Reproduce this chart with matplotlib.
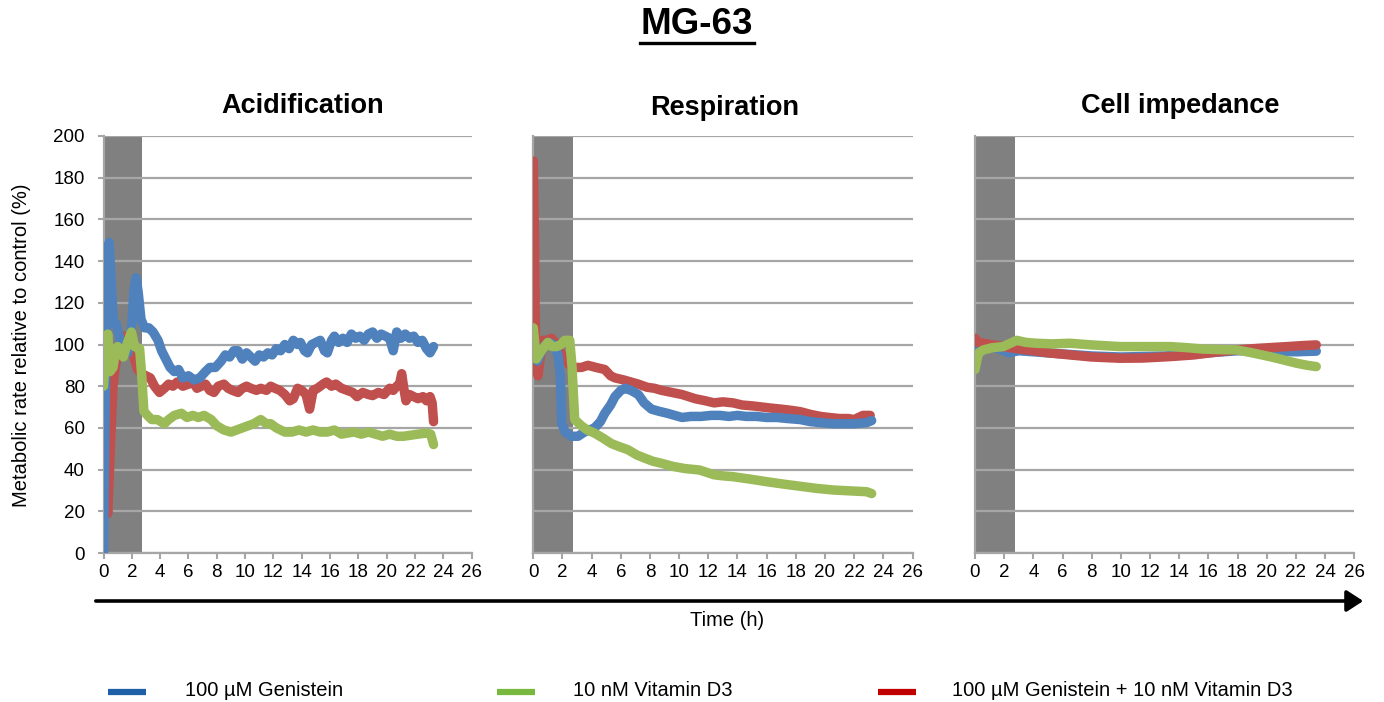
import matplotlib
matplotlib.use("Agg")
import matplotlib.pyplot as plt
from matplotlib.lines import Line2D
from matplotlib.patches import FancyArrowPatch

plt.rcParams['font.family'] = ['Liberation Sans', 'DejaVu Sans']

# ---------------- data ----------------
# Acidification
acid_blue_t = [0.0, 0.1, 0.25, 0.4, 0.55, 0.7, 0.9, 1.1, 1.4, 1.7, 1.95, 2.15, 2.3, 2.45, 2.65, 2.9, 3.2, 3.5, 3.85,
               4.1, 4.4, 4.7, 5.0, 5.3, 5.6, 6.0, 6.4, 6.8, 7.2, 7.5, 7.9, 8.3, 8.6, 8.9, 9.2, 9.5, 9.8, 10.1, 10.4,
               10.7, 11.0, 11.3, 11.6, 11.9, 12.2, 12.5, 12.8, 13.1, 13.4, 13.7, 13.9, 14.2, 14.4, 14.7, 15.0, 15.3,
               15.6, 15.8, 16.1, 16.3, 16.6, 16.9, 17.2, 17.5, 17.8, 18.1, 18.4, 18.7, 19.0, 19.3, 19.6, 19.9, 20.2,
               20.45, 20.7, 21.0, 21.3, 21.6, 21.9, 22.2, 22.5, 22.8, 23.05, 23.3]
acid_blue_v = [0, 60, 130, 149, 130, 110, 110, 104, 97, 96, 105, 126, 132, 125, 112, 108, 108, 106, 102,
               97, 93, 89, 87, 88, 84, 85, 83, 84, 87, 89, 89, 92, 95, 94, 97, 97, 93, 96, 94,
               92, 95, 94, 96, 95, 98, 97, 100, 98, 102, 100, 101, 97, 96, 100, 101, 102,
               97, 96, 102, 104, 101, 103, 101, 105, 103, 104, 102, 105, 106, 103, 105, 104, 103,
               97, 106, 103, 105, 103, 104, 101, 102, 98, 96, 99]

acid_red_t = [0.0, 0.15, 0.3, 0.45, 0.67, 0.85, 1.0, 1.25, 1.5, 1.75, 1.95, 2.2, 2.4, 2.7, 3.0, 3.3, 3.6, 3.95, 4.3,
              4.6, 4.9, 5.2, 5.6, 6.0, 6.3, 6.6, 6.9, 7.2, 7.5, 7.8, 8.1, 8.5, 8.8, 9.1, 9.5, 9.8, 10.1, 10.4,
              10.8, 11.1, 11.5, 11.8, 12.1, 12.45, 12.8, 13.15, 13.4, 13.7, 14.0, 14.3, 14.55, 14.8, 15.1, 15.5,
              15.75, 16.1, 16.4, 16.8, 17.2, 17.6, 17.9, 18.3, 18.7, 19.0, 19.4, 19.8, 20.2, 20.45, 20.7, 20.9,
              21.05, 21.2, 21.35, 21.6, 21.9, 22.2, 22.55, 22.8, 23.05, 23.2, 23.3]
acid_red_v = [60, 30, 19, 45, 80, 90, 96, 101, 104, 102, 99, 93, 88, 86, 85, 84, 80, 77, 79,
              81, 80, 82, 80, 81, 82, 79, 80, 81, 78, 77, 80, 81, 79, 78, 77, 79, 80, 79,
              78, 79, 78, 80, 79, 78, 76, 73, 74, 79, 78, 76, 69, 78, 79, 81,
              82, 80, 81, 79, 78, 77, 75, 77, 76, 75.5, 77, 76, 79, 78, 80, 81,
              86, 79, 73, 76, 75, 74, 75, 73, 75, 72, 63]

acid_green_t = [0.0, 0.15, 0.3, 0.45, 0.67, 0.85, 1.0, 1.2, 1.4, 1.65, 1.97, 2.2, 2.55, 2.7, 2.85, 3.1, 3.4, 3.8,
                4.3, 4.6, 5.0, 5.5, 5.9, 6.3, 6.7, 7.1, 7.6, 8.0, 8.5, 9.0, 9.4, 9.8, 10.2, 10.6, 11.1, 11.5,
                11.8, 12.2, 12.8, 13.3, 13.8, 14.3, 14.8, 15.3, 15.8, 16.3, 16.8, 17.2, 17.7, 18.2, 18.7, 19.2,
                19.7, 20.2, 20.7, 21.2, 21.7, 22.2, 22.8, 23.1, 23.3]
acid_green_v = [80, 97, 105, 87, 89, 97, 99, 96, 94, 100, 106, 99, 98, 85, 68, 66, 64, 64,
                62, 64, 66, 67, 65, 66, 65, 66, 64, 61, 59, 58, 59, 60, 61, 62, 64, 62,
                62, 60, 58, 58, 59, 58, 59, 58, 58, 59, 57, 57.5, 58, 57, 58, 57,
                56, 57, 56, 56, 56.5, 57, 57.5, 57, 52]

# Respiration
resp_red_t = [0.0, 0.08, 0.15, 0.32, 0.5, 0.66, 1.0, 1.24, 1.5, 1.8, 2.15, 2.5, 2.84, 3.3, 3.75, 4.3, 4.9, 5.3,
              5.6, 6.2, 6.7, 7.2, 7.8, 8.3, 8.8, 9.5, 10.2, 11.1, 11.8, 12.4, 13.0, 13.7, 14.3, 15.1, 15.7,
              16.3, 17.0, 17.6, 18.3, 19.0, 19.7, 20.3, 21.0, 21.6, 22.0, 22.6, 23.1]
resp_red_v = [188, 150, 100, 85, 95, 102, 102, 103, 101, 97, 93, 90, 89, 89, 90, 89, 88, 85,
              84, 83, 82, 81, 79.5, 79, 78, 77, 76, 74, 73, 72, 72.5, 72, 71, 70.5, 70,
              69.5, 69, 68.5, 67.8, 66.5, 65.5, 65, 64.5, 64.5, 64, 66, 66]

resp_blue_t = [0.0, 0.3, 0.6, 1.0, 1.4, 1.7, 1.85, 1.95, 2.2, 2.6, 3.07, 3.5, 4.2, 4.6, 4.9, 5.3, 5.6, 6.0, 6.3,
               6.7, 7.2, 7.6, 8.1, 8.6, 9.2, 9.7, 10.2, 10.8, 11.5, 12.2, 12.8, 13.4, 14.0, 14.6, 15.3, 16.0,
               16.7, 17.4, 18.3, 19.0, 19.7, 20.6, 21.3, 22.0, 22.85, 23.2]
resp_blue_v = [95, 92, 98, 101, 100, 95, 85, 62, 58, 56, 56, 58, 60, 63, 67, 71, 75, 78, 79,
               78, 76, 72, 69, 68, 67, 66, 65, 65.5, 65.5, 66, 66, 65.5, 66, 65.5, 65.5, 65,
               65, 64.5, 64, 63, 62.5, 62, 62, 62, 62.5, 63.5]

resp_green_t = [0.0, 0.2, 0.55, 1.0, 1.3, 1.6, 1.9, 2.15, 2.5, 2.65, 2.84, 3.3, 3.7, 4.2, 4.8, 5.35, 5.9, 6.5,
                7.1, 7.64, 8.2, 8.8, 9.6, 10.4, 11.4, 12.4, 13.0, 13.7, 14.8, 16.0, 17.2, 18.3, 19.4, 20.6,
                21.7, 22.85, 23.2]
resp_green_v = [108, 93, 97, 101, 99, 99, 100, 102, 102, 90, 64, 61, 59, 57.5, 55, 52.5, 51, 49.5,
                47, 45.5, 44, 43, 41.5, 40.5, 39.8, 37.5, 37, 36.6, 35.5, 34.2, 33, 32, 31, 30.2,
                29.8, 29.4, 28.5]

# Cell impedance
imp_red_t = [0.0, 0.2, 0.57, 1.5, 2.63, 4.0, 5.0, 6.5, 8.0, 9.95, 11.5, 13.4, 15.0, 16.5, 17.95, 19.5, 21.4, 22.5, 23.4]
imp_red_v = [103, 101, 100.6, 99.5, 98.2, 97, 96, 95, 94, 93.4, 93.5, 94.2, 95, 96.3, 97.4, 98.2, 99, 99.5, 99.8]

imp_blue_t = [0.0, 0.3, 1.0, 2.0, 2.3, 3.0, 5.0, 8.0, 10.0, 13.0, 16.0, 18.0, 20.0, 22.0, 23.4]
imp_blue_v = [97, 99, 99.5, 97, 96, 97, 96, 94.5, 94, 94.5, 96, 97, 96.8, 96.5, 96.8]

imp_green_t = [0.0, 0.23, 0.57, 1.2, 1.94, 2.4, 2.86, 3.5, 4.2, 5.3, 6.5, 8.0, 9.95, 11.5, 13.4, 14.5, 15.66, 17.0,
               17.95, 19.0, 20.2, 21.2, 22.06, 22.8, 23.4]
imp_green_v = [88, 95.8, 97.4, 98.5, 99, 100.5, 102, 101, 100.6, 100.3, 100.6, 99.8, 99, 99, 99, 98.5, 97.8, 97.5,
               97.4, 96, 94.2, 92.5, 91, 90, 89.4]

panel_titles = ["Acidification", "Respiration", "Cell impedance"]
legend_labels = ["100 µM Genistein", "10 nM Vitamin D3", "100 µM Genistein + 10 nM Vitamin D3"]
x_ticks = list(range(0, 27, 2))
y_ticks = list(range(0, 201, 20))
treatment_end = 2.75

# ---------------- style ----------------
C_BLUE, C_GREEN, C_RED = "#4F81BD", "#9BBB59", "#C0504D"
L_BLUE, L_GREEN, L_RED = "#1F5FA8", "#78B83F", "#C00000"
GRID = "#A6A6A6"

W, H = 1384, 702
fig = plt.figure(figsize=(W / 100, H / 100), dpi=100)

def fx(px):
    return px / W

def fy(py):
    return (H - py) / H

panels = [
    (103.5, 471.8, [(acid_red_t, acid_red_v, C_RED), (acid_blue_t, acid_blue_v, C_BLUE),
                    (acid_green_t, acid_green_v, C_GREEN)]),
    (533.3, 912.5, [(resp_red_t, resp_red_v, C_RED), (resp_blue_t, resp_blue_v, C_BLUE),
                    (resp_green_t, resp_green_v, C_GREEN)]),
    (975.0, 1354.2, [(imp_blue_t, imp_blue_v, C_BLUE), (imp_red_t, imp_red_v, C_RED),
                     (imp_green_t, imp_green_v, C_GREEN)]),
]
title_pos = [(303, 106), (725, 108), (1180, 106)]

top_px, bot_px = 136.0, 553.0
for i, (x0, x1, series) in enumerate(panels):
    ax = fig.add_axes([fx(x0), fy(bot_px), (x1 - x0) / W, (bot_px - top_px) / H])
    ax.set_xlim(0, 26)
    ax.set_ylim(0, 200)
    ax.axvspan(0, treatment_end, color="#808080", zorder=0.2, lw=0)
    ax.set_axisbelow(True)
    ax.yaxis.grid(True, color=GRID, lw=1.6, zorder=0.5)
    for t, v, c in series:
        ax.plot(t, v, color=c, lw=6.8, solid_capstyle="round", solid_joinstyle="round", zorder=3)
    for s in ["top", "right"]:
        ax.spines[s].set_visible(False)
    for s in ["left", "bottom"]:
        ax.spines[s].set_color(GRID)
        ax.spines[s].set_linewidth(1.6)
    ax.set_xticks(x_ticks)
    ax.set_xticklabels([str(v) for v in x_ticks], fontsize=13.5)
    ax.tick_params(axis="x", direction="out", length=4, width=1.5, color=GRID, pad=4)
    ax.set_yticks(y_ticks)
    if i == 0:
        ax.set_yticklabels([str(v) for v in y_ticks], fontsize=13.5)
        ax.tick_params(axis="y", direction="out", length=4.5, width=1.5, color=GRID, pad=9)
    else:
        ax.set_yticklabels([])
        ax.tick_params(axis="y", length=0)
    fig.text(fx(title_pos[i][0]), fy(title_pos[i][1]), panel_titles[i], fontsize=19.5,
             fontweight="bold", ha="center", va="center")

# main title with underline
fig.text(fx(697), fy(24), "MG-63", fontsize=26.5, fontweight="bold", ha="center", va="center")
fig.add_artist(Line2D([fx(640), fx(754)], [fy(43), fy(43)], color="black", lw=2.4))

# y label
fig.text(fx(22), fy(345), "Metabolic rate relative to control (%)", fontsize=14.5,
         rotation=90, ha="center", va="center")

# time arrow
fig.add_artist(FancyArrowPatch(
    (fx(93), fy(601)), (fx(1366), fy(601)), transform=fig.transFigure,
    arrowstyle="-|>,head_length=10,head_width=6.5", color="black", lw=2.6, mutation_scale=1))
fig.text(fx(727), fy(621), "Time (h)", fontsize=14.5, ha="center", va="center")

# legend
leg = [(108, 146, 185, L_BLUE), (497, 535, 573, L_GREEN), (878, 916, 952, L_RED)]
for (a, b, tx, c), lab in zip(leg, legend_labels):
    fig.add_artist(Line2D([fx(a), fx(b)], [fy(692), fy(692)], color=c, lw=4.5, solid_capstyle="butt"))
    fig.text(fx(tx), fy(691), lab, fontsize=14.5, ha="left", va="center")

fig.savefig("out.png", dpi=100)
